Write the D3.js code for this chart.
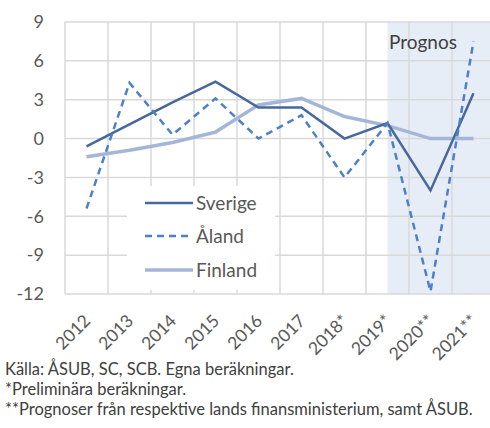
<!DOCTYPE html>
<html>
<head>
<meta charset="utf-8">
<script src="https://cdn.jsdelivr.net/npm/d3@7"></script>
<style>
  body { margin: 0; background: #fff; }
  svg { display: block; font-family: Lato, "Open Sans", sans-serif; }
</style>
</head>
<body>
<script>
// data
const years = ["2012", "2013", "2014", "2015", "2016", "2017", "2018*", "2019*", "2020**", "2021**"];
const sverige = [-0.6, 1.1, 2.8, 4.4, 2.4, 2.4, 0.0, 1.2, -4.0, 3.5];
const aland = [-5.4, 4.3, 0.3, 3.1, 0.0, 1.8, -3.0, 1.2, -11.8, 7.5];
const finland = [-1.4, -0.9, -0.3, 0.5, 2.6, 3.1, 1.7, 1.0, 0.0, 0.0];
const yTicks = [9, 6, 3, 0, -3, -6, -9, -12];
const notes = [
  "Källa: ÅSUB, SC, SCB. Egna beräkningar.",
  "*Preliminära beräkningar.",
  "**Prognoser från respektive lands finansministerium, samt ÅSUB."
];

const width = 490, height = 428;
const svg = d3.select("body").append("svg")
  .attr("width", width)
  .attr("height", height);

// echelles
const x = d3.scaleBand().domain(years).range([65, 495]).padding(0);
const y = d3.scaleLinear().domain([-12, 9]).range([294, 22]);
const cx = d => x(d) + x.bandwidth() / 2;

// zone prognos (depuis 2019*)
svg.append("rect")
  .attr("x", cx("2019*"))
  .attr("y", y(9))
  .attr("width", 495 - cx("2019*"))
  .attr("height", y(-12) - y(9))
  .attr("fill", "#e7edf6");

// grille
const grid = svg.append("g").attr("stroke", "#d9d9d9").attr("stroke-width", 1.5);
grid.selectAll(".h").data(yTicks).enter().append("line")
  .attr("x1", 65).attr("x2", 495)
  .attr("y1", d => y(d)).attr("y2", d => y(d));
grid.selectAll(".v").data(years.map(d => x(d)).concat([x.range()[1]])).enter().append("line")
  .attr("x1", d => d).attr("x2", d => d)
  .attr("y1", y(9)).attr("y2", y(-12));

// axe y
svg.append("g").selectAll("text").data(yTicks).enter().append("text")
  .attr("x", 44)
  .attr("y", d => y(d))
  .attr("dy", "0.35em")
  .attr("text-anchor", "end")
  .attr("font-size", 18)
  .attr("fill", "#595959")
  .text(d => d);

// axe x
svg.append("g").selectAll("text").data(years).enter().append("text")
  .attr("text-anchor", "end")
  .attr("font-size", 17.5)
  .attr("fill", "#595959")
  .attr("transform", d => "translate(" + (cx(d) + 5) + ",322) rotate(-45)")
  .text(d => d);

// Prognos
svg.append("text")
  .attr("x", 389).attr("y", 49)
  .attr("font-size", 19)
  .attr("fill", "#404040")
  .text("Prognos");

// lignes
const line = d3.line().x((d, i) => cx(years[i])).y(d => y(d));
const series = [
  { name: "Finland", values: finland, color: "#a4b6d7", w: 3.5, dash: null },
  { name: "Sverige", values: sverige, color: "#46689c", w: 2.5, dash: null },
  { name: "Åland", values: aland, color: "#4e80c6", w: 2.5, dash: "7,5" }
];

// légende (fond blanc)
svg.append("rect")
  .attr("x", 127).attr("y", 186)
  .attr("width", 148).attr("height", 104)
  .attr("fill", "#fff");

series.forEach(s => {
  svg.append("path")
    .datum(s.values)
    .attr("d", line)
    .attr("fill", "none")
    .attr("stroke", s.color)
    .attr("stroke-width", s.w)
    .attr("stroke-dasharray", s.dash);
});

const legend = [
  { name: "Sverige", ly: 203 },
  { name: "Åland", ly: 236 },
  { name: "Finland", ly: 270 }
];
legend.forEach(l => {
  const s = series.find(d => d.name === l.name);
  svg.append("line")
    .attr("x1", 145).attr("x2", 193)
    .attr("y1", l.ly).attr("y2", l.ly)
    .attr("stroke", s.color)
    .attr("stroke-width", s.w)
    .attr("stroke-dasharray", s.dash);
  svg.append("text")
    .attr("x", 196).attr("y", l.ly)
    .attr("dy", "0.35em")
    .attr("font-size", 19)
    .attr("fill", "#595959")
    .text(l.name);
});

// notes
svg.append("g").selectAll("text").data(notes).enter().append("text")
  .attr("x", 5)
  .attr("y", (d, i) => 375 + i * 20)
  .attr("font-size", 16.5)
  .attr("fill", "#404040")
  .text(d => d);
</script>
</body>
</html>
